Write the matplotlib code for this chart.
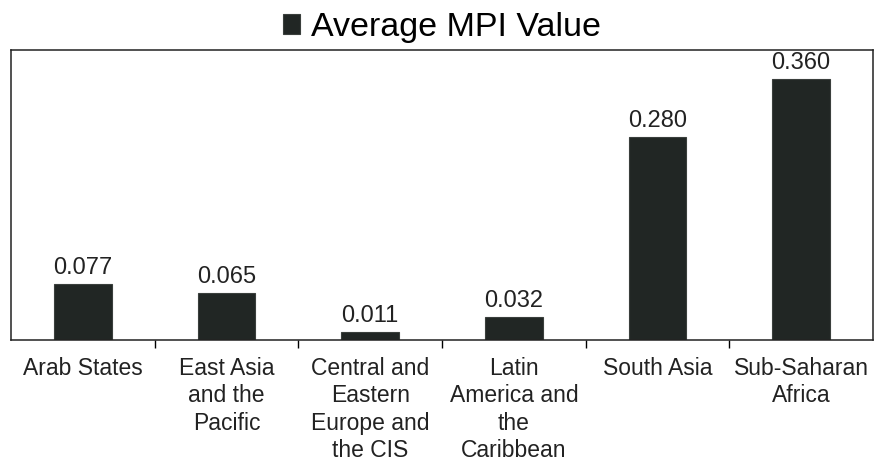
import numpy as np
import matplotlib.pyplot as plt

plt.rcParams['font.family'] = ['Liberation Sans', 'DejaVu Sans']

regions = ["Arab States", "East Asia\nand the\nPacific", "Central and\nEastern\nEurope and\nthe CIS",
           "Latin\nAmerica and\nthe\nCaribbean", "South Asia", "Sub-Saharan\nAfrica"]
mpi = [0.077, 0.065, 0.011, 0.032, 0.280, 0.360]
value_labels = ["0.077", "0.065", "0.011", "0.032", "0.280", "0.360"]

fig = plt.figure(figsize=(8.76, 4.70), dpi=100)
ax = fig.add_axes([11/876, 130/470, 862/876, 290/470])

x = np.arange(len(regions))
bars = ax.bar(x, mpi, width=0.4, color='#212624', edgecolor='#3a3f3c', linewidth=0.8,
              label='Average MPI Value')

for xi, v, lab in zip(x, mpi, value_labels):
    ax.text(xi, v + 0.007, lab, ha='center', va='bottom', fontsize=17, color='#222222')

ax.set_xlim(-0.5, len(regions) - 0.5)
ax.set_ylim(0, 0.40)
ax.set_yticks([])

# category labels, ticks at boundaries
ax.set_xticks(x)
ax.set_xticklabels(regions, fontsize=16.5, color='#222222', linespacing=1.25, va='top')
ax.tick_params(axis='x', which='major', length=0, pad=12)
ax.set_xticks(np.arange(0.5, len(regions) - 0.5, 1), minor=True)
ax.tick_params(axis='x', which='minor', length=6, width=1, direction='out')

for s in ax.spines.values():
    s.set_linewidth(1.1)
    s.set_color('#222222')

ax.legend(loc='lower center', bbox_to_anchor=(0.5, 0.965), frameon=False, fontsize=24.5,
          handlelength=0.5, handleheight=0.5, handletextpad=0.3, borderaxespad=0.1)

fig.savefig('out.png', dpi=100)
